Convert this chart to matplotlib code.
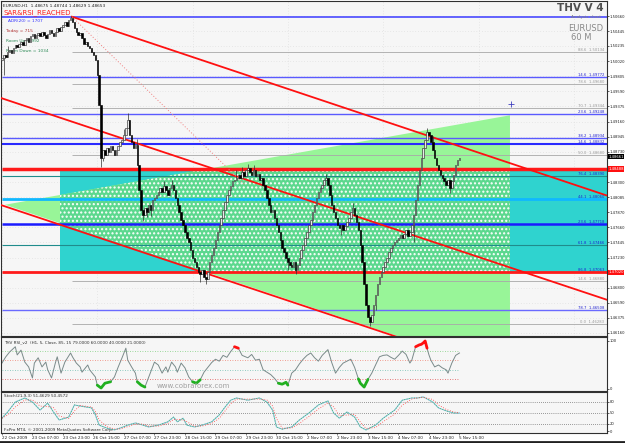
import numpy as np
import pandas as pd
import matplotlib
matplotlib.use("Agg")
import matplotlib.pyplot as plt
from matplotlib.patches import Polygon, Rectangle
from matplotlib.transforms import blended_transform_factory

# ---- price data (EURUSD H1 closes, one per bar) ----
first_open = 1.5003
closes = [
    1.5006, 1.5011, 1.5008, 1.5015, 1.5018, 1.5013, 1.5021, 1.5025, 1.5022, 1.5026,
    1.5029, 1.5025, 1.5032, 1.5035, 1.5029, 1.5038, 1.5040, 1.5035, 1.5039, 1.5042,
    1.5038, 1.5043, 1.5039, 1.5035, 1.5040, 1.5046, 1.5042, 1.5038, 1.5043, 1.5049,
    1.5045, 1.5050, 1.5053, 1.5057, 1.5052, 1.5060, 1.5063, 1.5057, 1.5049, 1.5043,
    1.5039, 1.5042, 1.5035, 1.5026, 1.5029, 1.5023, 1.5021, 1.5015, 1.5011, 1.5003,
    1.4982, 1.4940, 1.4865, 1.4876, 1.4869, 1.4878, 1.4873, 1.4881, 1.4876, 1.4869,
    1.4876, 1.4881, 1.4887, 1.4890, 1.4897, 1.4907, 1.4918, 1.4897, 1.4887, 1.4878,
    1.4883, 1.4855, 1.4819, 1.4791, 1.4783, 1.4793, 1.4788, 1.4798, 1.4791, 1.4805,
    1.4808, 1.4812, 1.4816, 1.4822, 1.4816, 1.4825, 1.4819, 1.4812, 1.4822, 1.4826,
    1.4819, 1.4808, 1.4798, 1.4788, 1.4776, 1.4769, 1.4759, 1.4751, 1.4745, 1.4734,
    1.4723, 1.4717, 1.4709, 1.4703, 1.4699, 1.4706, 1.4695, 1.4692, 1.4703, 1.4717,
    1.4727, 1.4737, 1.4748, 1.4759, 1.4769, 1.4779, 1.4791, 1.4802, 1.4812, 1.4819,
    1.4825, 1.4831, 1.4833, 1.4836, 1.4840, 1.4836, 1.4845, 1.4839, 1.4847, 1.4850,
    1.4845, 1.4840, 1.4847, 1.4839, 1.4842, 1.4833, 1.4836, 1.4826, 1.4819, 1.4808,
    1.4798, 1.4788, 1.4791, 1.4779, 1.4769, 1.4759, 1.4748, 1.4737, 1.4731, 1.4723,
    1.4717, 1.4713, 1.4709, 1.4717, 1.4706, 1.4713, 1.4723, 1.4734, 1.4741, 1.4751,
    1.4759, 1.4769, 1.4776, 1.4788, 1.4798, 1.4808, 1.4816, 1.4822, 1.4826, 1.4833,
    1.4836, 1.4826, 1.4812, 1.4798, 1.4788, 1.4779, 1.4769, 1.4765, 1.4769, 1.4762,
    1.4768, 1.4773, 1.4779, 1.4788, 1.4793, 1.4783, 1.4773, 1.4762, 1.4741, 1.4717,
    1.4685, 1.4656, 1.4638, 1.4632, 1.4642, 1.4656, 1.4670, 1.4685, 1.4695, 1.4703,
    1.4709, 1.4717, 1.4723, 1.4731, 1.4737, 1.4741, 1.4745, 1.4748, 1.4751, 1.4755,
    1.4751, 1.4756, 1.4762, 1.4754, 1.4759, 1.4769, 1.4783, 1.4805, 1.4826, 1.4847,
    1.4865, 1.4878, 1.4890, 1.4901, 1.4897, 1.4887, 1.4876, 1.4865, 1.4855, 1.4847,
    1.4840, 1.4836, 1.4831, 1.4826, 1.4833, 1.4822, 1.4831, 1.4840, 1.4855, 1.4862,
    1.4865,
]

# notable candle wicks (bar index, extreme price)
wick_bar = [1, 3, 36, 52, 53, 64, 66, 71, 74, 76, 78, 85, 89, 104, 107, 123, 126, 129,
            132, 150, 154, 170, 178, 184, 193, 196, 216, 223, 226, 235]
wick_price = [1.4982, 1.5024, 1.5066, 1.4852, 1.4860, 1.4905, 1.4928, 1.4892, 1.4775,
              1.4780, 1.4782, 1.4832, 1.4833, 1.4688, 1.4685, 1.4848, 1.4852, 1.4856,
              1.4855, 1.4705, 1.4700, 1.4842, 1.4755, 1.4800, 1.4626, 1.4648, 1.4745,
              1.4907, 1.4895, 1.4815]

# RSI samples (bar index, value)
rsi_bar = [0, 2, 4, 7, 8, 10, 12, 14, 16, 17, 19, 21, 23, 24, 26, 28, 29, 31, 33, 36,
           37, 39, 41, 42, 45, 46, 49, 50, 52, 54, 57, 59, 61, 63, 65, 66, 68, 70, 71, 73,
           75, 77, 79, 80, 82, 84, 86, 87, 89, 91, 92, 94, 96, 98, 100, 102, 104, 106, 108, 110,
           112, 114, 116, 118, 120, 122, 124, 126, 129, 131, 133, 135, 137, 139, 141, 143, 145, 147, 149, 150,
           152, 154, 156, 158, 160, 162, 164, 166, 168, 171, 173, 175, 177, 179, 181, 183, 185, 187, 188, 189,
           190, 192, 194, 196, 198, 200, 202, 204, 206, 208, 210, 212, 214, 215, 217, 218, 219, 220, 221, 222,
           223, 224, 225, 227, 229, 231, 233, 234, 236, 238, 240]
rsi_val = [54, 67, 77, 88, 71, 81, 56, 46, 23, 54, 65, 46, 56, 40, 23, 54, 67, 33, 56, 75,
           67, 54, 46, 35, 50, 40, 25, 8, 2, 12, 15, 25, 46, 65, 85, 60, 46, 33, 15, 8,
           4, 25, 46, 56, 50, 33, 46, 35, 56, 46, 35, 54, 44, 25, 15, 12, 19, 35, 45, 55,
           62, 58, 70, 66, 78, 88, 85, 70, 65, 72, 60, 62, 40, 35, 30, 22, 12, 10, 14, 8,
           33, 40, 52, 62, 70, 75, 65, 58, 70, 82, 55, 33, 45, 54, 58, 62, 45, 21, 12, 8,
           4, 20, 33, 50, 67, 70, 71, 66, 62, 70, 79, 72, 54, 60, 88, 90, 92, 93, 96, 100,
           85, 71, 60, 46, 50, 44, 40, 33, 54, 70, 75]
rsi_levels = [79, 60, 40, 21]
rsi_level_colors = ["#7fcf7f", "#f08070", "#6fbfaf", "#e05050"]

# Stochastic main line samples (bar index, value)
stoch_bar = [0, 3, 7, 12, 16, 20, 24, 27, 30, 35, 38, 41, 47, 49, 51, 55, 59, 62, 66, 70,
             74, 77, 82, 87, 90, 92, 95, 97, 101, 105, 110, 114, 117, 120, 123, 129, 135, 139, 142, 144,
             147, 152, 156, 161, 166, 171, 174, 177, 181, 185, 188, 191, 196, 200, 206, 210, 215, 218, 221, 226,
             229, 233, 237, 240]
stoch_val = [35, 52, 79, 90, 79, 57, 76, 52, 30, 38, 71, 68, 63, 44, 16, 8, 3, 8, 16, 22,
             16, 11, 16, 25, 38, 25, 35, 16, 11, 16, 25, 44, 65, 84, 90, 84, 90, 79, 57, 11,
             5, 11, 30, 49, 71, 82, 49, 35, 52, 38, 11, 3, 16, 35, 57, 84, 90, 90, 93, 79,
             63, 55, 49, 49]
stoch_levels = [80, 50, 20]

# Fibonacci / horizontal levels
fib_price = [1.5065, 1.5015, 1.4979, 1.4969, 1.4935, 1.4927, 1.4893, 1.4884, 1.4869,
             1.4849, 1.4839, 1.4806, 1.4771, 1.4741, 1.4703, 1.4690, 1.4649, 1.4628]
fib_label = ["", "88.6  1.50134", "14.6  1.49772", "78.6  1.49680", "70.7  1.49344",
             "23.6  1.49248", "38.2  1.48934", "14.6  1.48832", "50.0  1.48680", "",
             "76.4  1.48390", "44.1  1.48060", "23.6  1.47718", "61.8  1.47466",
             "86.8  1.47063", "14.6  1.46880", "78.7  1.46508", "0.0  1.46283"]
fib_color = ["#4a4aff", "#a8a8a8", "#5a5aff", "#a8a8a8", "#a8a8a8", "#5a5aff", "#5a5aff",
             "#2a2aff", "#a8a8a8", "#ff1a1a", "#208c8c", "#10b8ff", "#1a1aff", "#208c8c",
             "#ff1a1a", "#a8a8a8", "#6a6aff", "#a8a8a8"]
fib_width = [1.2, 0.6, 1.0, 0.6, 0.6, 1.0, 1.0, 1.5, 0.6, 2.5, 0.8, 2.0, 1.8, 0.8,
             2.0, 0.6, 1.0, 0.6]
fib_start = [0, 36.7, 0, 36.7, 36.7, 0, 0, 0, 36.7, 0, 0, 0, 0, 0, 0, 36.7, 0, 36.7]

# channel trendlines (bar, price) endpoints
chan_a = [(36.7, 1.5065), (317.4, 1.4811)]
chan_b = [(-1.0, 1.4950), (317.4, 1.4663)]
chan_c = [(-1.0, 1.4798), (317.4, 1.4511)]
peak_dots = [(36.7, 1.5065), (127.5, 1.4826)]

# zones
box_bars = (30.4, 320.0)
box_prices = (1.4703, 1.4849)
tri_pts = [(1.6, 1.4798), (266.5, 1.4925), (266.5, 1.4558)]

right_ticks = [1.50660, 1.50445, 1.50235, 1.50020, 1.49805, 1.49590, 1.49375, 1.49160,
               1.48945, 1.48730, 1.48300, 1.48085, 1.47870, 1.47660, 1.47445, 1.47230,
               1.46800, 1.46590, 1.46375, 1.46160]
date_labels = ["22 Oct 2009", "23 Oct 07:00", "23 Oct 23:00", "26 Oct 15:00", "27 Oct 07:00",
               "27 Oct 23:00", "28 Oct 15:00", "29 Oct 07:00", "29 Oct 23:00", "30 Oct 15:00",
               "2 Nov 07:00", "2 Nov 23:00", "3 Nov 15:00", "4 Nov 07:00", "4 Nov 23:00",
               "5 Nov 15:00"]

W, H = 625, 443
BG = "#f6f6f6"
XMAX = 317.4
FS = 2.7  # tiny MT4 label size


def rect(x0, y0, x1, y1):
    return [x0 / W, 1 - y1 / H, (x1 - x0) / W, (y1 - y0) / H]


fig = plt.figure(figsize=(W / 100, H / 100), dpi=100)
fig.patch.set_facecolor("white")

ax = fig.add_axes(rect(1, 1, 607, 336))
ax_rsi = fig.add_axes(rect(1, 337, 607, 391))
ax_st = fig.add_axes(rect(1, 392, 607, 433))

for a in (ax, ax_rsi, ax_st):
    a.set_facecolor(BG)
    a.set_xlim(-0.5, XMAX)
    for s in a.spines.values():
        s.set_color("#303030")
        s.set_linewidth(0.8)
    a.tick_params(axis="x", bottom=False, labelbottom=False)
    a.yaxis.tick_right()
    a.tick_params(axis="y", length=1.5, width=0.5, labelsize=FS, pad=0.6, colors="#202020")

# ---- main price panel ----
ax.set_ylim(1.46116, 1.50873)
ax.set_yticks(right_ticks)
ax.set_yticklabels(["%.5f" % t for t in right_ticks])
ax.grid(True, color="#d8d8d8", linestyle=(0, (1, 3)), linewidth=0.5)
ax.set_axisbelow(True)

ax.add_patch(Rectangle((box_bars[0], box_prices[0]), box_bars[1] - box_bars[0],
                       box_prices[1] - box_prices[0], facecolor="#2fd3cf", edgecolor="none", zorder=1))
tri = Polygon(tri_pts, closed=True, facecolor="#98f598", edgecolor="none", zorder=1.2)
ax.add_patch(tri)
clip_box = Rectangle((box_bars[0], box_prices[0]), box_bars[1] - box_bars[0],
                     box_prices[1] - box_prices[0], transform=ax.transData)
over = Polygon(tri_pts, closed=True, facecolor="#5cd88e", edgecolor="white", hatch="....",
               linewidth=0, zorder=1.3)
ax.add_patch(over)
over.set_clip_path(clip_box)

for p, lab, c, lw, st in zip(fib_price, fib_label, fib_color, fib_width, fib_start):
    ax.plot([st, XMAX], [p, p], color=c, lw=lw, zorder=2, solid_capstyle="butt")
    if lab:
        lc = "#9a9a9a" if c == "#a8a8a8" else "#2020d0"
        ax.text(XMAX - 1.5, p, lab, fontsize=FS, color=lc, ha="right", va="bottom", zorder=6)

for ln in (chan_a, chan_b, chan_c):
    ax.plot([ln[0][0], ln[1][0]], [ln[0][1], ln[1][1]], color="#ff1010", lw=1.3, zorder=3)
ax.plot([peak_dots[0][0], peak_dots[1][0]], [peak_dots[0][1], peak_dots[1][1]],
        color="#f08080", lw=0.7, ls=(0, (1, 2)), zorder=3)
ax.plot([267], [1.4941], marker="+", color="#4040c0", ms=4, mew=0.6, zorder=3)

# candles
closes = np.array(closes)
opens = np.r_[first_open, closes[:-1]]
bars = np.arange(len(closes))
up = closes >= opens
body = np.abs(closes - opens)
body = np.maximum(body, 0.00004)
low = np.minimum(opens, closes)
high = np.maximum(opens, closes)

# wicks from body to the recorded extreme
wb = np.array(wick_bar)
wp = np.array(wick_price)
wick_from = np.where(wp > high[wb], high[wb], low[wb])
ax.vlines(wb, wick_from, wp, color="#303030", lw=0.5, zorder=3.9)

ax.bar(bars[up], body[up], bottom=low[up], width=0.8, color="#e8e8e8",
       edgecolor="#303030", linewidth=0.45, zorder=4)
ax.bar(bars[~up], body[~up], bottom=low[~up], width=0.8, color="black",
       edgecolor="black", linewidth=0.45, zorder=4)

# price boxes on right axis
tr = blended_transform_factory(ax.transAxes, ax.transData)
ax.text(1.002, 1.48661, "1.48661", transform=tr, fontsize=FS, color="white", va="center",
        ha="left", bbox=dict(boxstyle="square,pad=0.15", fc="black", ec="none"), zorder=7,
        clip_on=False)
for p in (1.48488, 1.47020):
    ax.text(1.002, p, "%.5f" % p, transform=tr, fontsize=FS, color="white", va="center",
            ha="left", bbox=dict(boxstyle="square,pad=0.15", fc="#ff1010", ec="none"), zorder=7,
            clip_on=False)

# header texts
ax.text(0.004, 0.990, "EURUSD,H1  1.48675 1.48744 1.48629 1.48653", transform=ax.transAxes,
        fontsize=3.1, color="#202020", va="top")
ax.text(0.004, 0.974, "SAR&RSI_REACHED", transform=ax.transAxes, fontsize=5,
        color="#ff2020", va="top")
ax.text(0.012, 0.945, "ADR(20) = 1707", transform=ax.transAxes, fontsize=3.1, color="#3030ff", va="top")
ax.text(0.008, 0.915, "Today = 715", transform=ax.transAxes, fontsize=3.1, color="#b03030", va="top")
ax.text(0.008, 0.886, "Room Up = 992", transform=ax.transAxes, fontsize=3.1, color="#2e8b57", va="top")
ax.text(0.008, 0.858, "Room Down = 1034", transform=ax.transAxes, fontsize=3.1, color="#2e8b57", va="top")
ax.text(0.995, 0.995, "THV V 4", transform=ax.transAxes, fontsize=7.5, fontweight="bold",
        color="#505050", ha="right", va="top")
ax.text(0.99, 0.958, "Analysis chart", transform=ax.transAxes, fontsize=3.1, color="#808080",
        ha="right", va="top")
ax.text(0.993, 0.93, "EURUSD", transform=ax.transAxes, fontsize=6, color="#8a8a8a",
        ha="right", va="top")
ax.text(0.975, 0.905, "60 M", transform=ax.transAxes, fontsize=6, color="#8a8a8a",
        ha="right", va="top")

# ---- RSI panel ----
ax_rsi.set_ylim(-4.2, 108.3)
ax_rsi.set_yticks([0, 100])
ax_rsi.set_yticklabels(["0", "100"])
for lv, c in zip(rsi_levels, rsi_level_colors):
    ax_rsi.plot([0, 240], [lv, lv], color=c, lw=0.6, ls=(0, (1, 2)))
rb = np.array(rsi_bar)
rv = np.array(rsi_val, dtype=float)
ax_rsi.plot(rb, rv, color="#7a8a8a", lw=0.7)
ax_rsi.plot(rb, np.where(rv <= 21, rv, np.nan), color="#20b020", lw=2.0, solid_capstyle="round")
ax_rsi.plot(rb, np.where(rv >= 85, rv, np.nan), color="#ff1010", lw=2.0, solid_capstyle="round")
ax_rsi.text(0.005, 0.93, "THV RSI_v2  (H1, 5, Close, 85, 15 79.0000 60.0000 40.0000 21.0000)",
            transform=ax_rsi.transAxes, fontsize=3.0, color="#303030", va="top")
ax_rsi.text(81, -1, "www.cobraforex.com", fontsize=5, color="#a0a0a0", va="bottom")

# ---- Stochastic panel ----
ax_st.set_ylim(-5.4, 106.3)
ax_st.set_yticks([0, 20, 50, 80])
ax_st.set_yticklabels(["0", "20", "50", "80"])
for lv in stoch_levels:
    ax_st.axhline(lv, color="#404040", lw=0.5, ls=(0, (1, 2)))
sb = np.array(stoch_bar)
sv = pd.Series(stoch_val, dtype=float)
ax_st.plot(sb, sv, color="#7ab8d8", lw=0.7)
ax_st.plot(sb, sv, color="#40c060", lw=0.6, ls=(0, (1, 2)))
ax_st.plot(sb, sv.rolling(2, min_periods=1).mean(), color="#ff4040", lw=0.6, ls=(0, (1, 2)))
ax_st.text(0.005, 0.96, "Stoch(21,9,3) 51.4629 50.4572", transform=ax_st.transAxes,
           fontsize=3.0, color="#303030", va="top")
ax_st.text(0.005, 0.03, "FxPro MT4, \u00a9 2001-2009 MetaQuotes Software Corp.",
           transform=ax_st.transAxes, fontsize=3.0, color="#303030", va="bottom")

# date labels
ax_st.set_xticks(np.arange(0, 241, 16))
ax_st.tick_params(axis="x", bottom=True, labelbottom=True, length=1.5, width=0.4,
                  labelsize=3.0, pad=1, colors="#202020")
ax_st.set_xticklabels(date_labels, ha="left")

fig.add_artist(plt.Line2D([0, 1], [1.5 / H, 1.5 / H], color="#202020", lw=2))

fig.savefig("out.png", dpi=100, facecolor="white")
